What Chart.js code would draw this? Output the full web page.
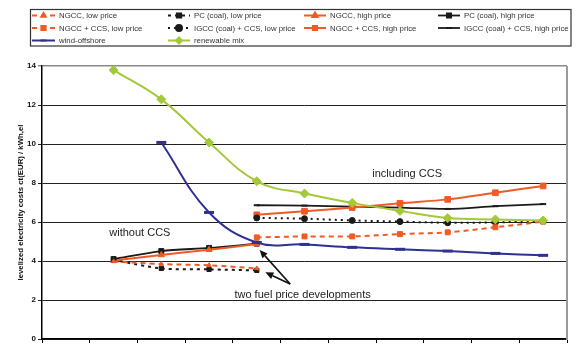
<!DOCTYPE html>
<html>
<head>
<meta charset="utf-8">
<script src="https://cdn.jsdelivr.net/npm/chart.js@4/dist/chart.umd.min.js"></script>
<style>
  html, body { margin: 0; padding: 0; background: #fff; }
  #wrap { width: 579px; height: 347px; position: relative; }
</style>
</head>
<body>
<div id="wrap"><canvas id="c" width="579" height="347"></canvas></div>
<script>
// Time steps along the horizontal axis (labels not shown)
const categories = ['0', '1', '2', '3', '4', '5', '6', '7', '8', '9', '10'];

// Levelized electricity costs, ct(EUR) / kWh,el
const ngccLow      = [null, 3.98, 3.84, 3.78, 3.62, null, null, null, null, null, null];
const pcLow        = [null, 4.05, 3.62, 3.57, 3.52, null, null, null, null, null, null];
const ngccHigh     = [null, 4.02, 4.31, 4.58, 4.87, null, null, null, null, null, null];
const pcHigh       = [null, 4.10, 4.51, 4.67, 4.89, null, null, null, null, null, null];
const ngccCcsLow   = [null, null, null, null, 5.21, 5.26, 5.26, 5.38, 5.47, 5.73, 6.02];
const igccCcsLow   = [null, null, null, null, 6.21, 6.17, 6.08, 6.02, 5.96, 5.98, 6.04];
const ngccCcsHigh  = [null, null, null, null, 6.37, 6.55, 6.74, 6.96, 7.16, 7.50, 7.85];
const igccCcsHigh  = [null, null, null, null, 6.86, 6.84, 6.79, 6.74, 6.67, 6.81, 6.92];
const windOffshore = [null, null, 10.08, 6.49, 4.95, 4.85, 4.70, 4.60, 4.51, 4.39, 4.29];
const renewableMix = [null, 13.79, 12.29, 10.08, 8.09, 7.46, 6.98, 6.57, 6.20, 6.13, 6.08];

const yTicks = [0, 2, 4, 6, 8, 10, 12, 14];

const ORANGE = '#f15a24';
const BLACK = '#1a1a1a';
const BLUE = '#2e3192';
const GREEN = '#a3c93a';

function series(label, data, color, opts) {
  return Object.assign({
    label, data,
    borderColor: color,
    backgroundColor: color,
    pointBackgroundColor: color,
    pointBorderColor: color,
    borderWidth: 2,
    pointRadius: 3,
    pointBorderWidth: 1,
    tension: 0.3,
    spanGaps: false,
    order: 1
  }, opts);
}

const datasets = [
  series('NGCC, low price', ngccLow, ORANGE, { borderDash: [5, 4], pointStyle: 'triangle', pointRadius: 2.5 }),
  series('PC (coal), low price', pcLow, BLACK, { borderDash: [3, 4], pointStyle: 'rect', pointRadius: 3 }),
  series('NGCC, high price', ngccHigh, ORANGE, { pointStyle: 'triangle', pointRadius: 3.5 }),
  series('PC (coal), high price', pcHigh, BLACK, { pointStyle: 'rect', pointRadius: 3.5, borderWidth: 1.8 }),
  series('NGCC + CCS, low price', ngccCcsLow, ORANGE, { borderDash: [5, 4], pointStyle: 'rect', pointRadius: 3.5 }),
  series('IGCC (coal) + CCS, low price', igccCcsLow, BLACK, { borderDash: [2, 4], pointStyle: 'circle', pointRadius: 3 }),
  series('NGCC + CCS, high price', ngccCcsHigh, ORANGE, { pointStyle: 'rect', pointRadius: 4 }),
  series('IGCC (coal) + CCS, high price', igccCcsHigh, BLACK, { pointStyle: 'line', pointRadius: 3, pointBorderWidth: 2, borderWidth: 1.8 }),
  series('wind-offshore', windOffshore, BLUE, { pointStyle: 'line', pointRadius: 5, pointBorderWidth: 3, tension: 0.4, order: 0 }),
  series('renewable mix', renewableMix, GREEN, { pointStyle: 'rectRot', pointRadius: 4.5, tension: 0.4, order: 0 })
];

// Legend laid out in a boxed 4-column grid above the plot
const legendGrid = {
  id: 'legendGrid',
  afterDraw(chart) {
    const ctx = chart.ctx;
    const colLine = [32, 168, 304, 438];
    const colText = [59, 194, 330, 464];
    const rowY = [15.5, 28, 40.5];
    ctx.save();
    ctx.strokeStyle = '#333';
    ctx.lineWidth = 1.2;
    ctx.strokeRect(30.5, 9.5, 540.5, 36.5);
    ctx.font = '7.8px "Liberation Sans", Arial, sans-serif';
    ctx.textBaseline = 'middle';
    chart.data.datasets.forEach((ds, i) => {
      const col = i % 4, row = Math.floor(i / 4);
      const x0 = colLine[col], x1 = colText[col] - 4, y = rowY[row];
      ctx.save();
      ctx.strokeStyle = ds.borderColor;
      ctx.lineWidth = ds.borderWidth;
      ctx.setLineDash(ds.borderDash || []);
      ctx.beginPath();
      ctx.moveTo(x0, y);
      ctx.lineTo(x1, y);
      ctx.stroke();
      ctx.setLineDash([]);
      ctx.fillStyle = ds.pointBackgroundColor;
      ctx.strokeStyle = ds.pointBorderColor;
      Chart.helpers.drawPoint(ctx, {
        pointStyle: ds.pointStyle,
        radius: Math.min(ds.pointRadius, 3),
        rotation: 0,
        borderWidth: ds.pointBorderWidth
      }, (x0 + x1) / 2, y);
      ctx.restore();
      ctx.fillStyle = '#333';
      ctx.fillText(ds.label, colText[col], y + 0.5);
    });
    ctx.restore();
  }
};

// Frame on the right side of the plot area
const plotFrame = {
  id: 'plotFrame',
  beforeDatasetsDraw(chart) {
    const { ctx, chartArea: a } = chart;
    ctx.save();
    ctx.strokeStyle = '#9a9a9a';
    ctx.lineWidth = 2;
    ctx.beginPath();
    ctx.moveTo(a.right, a.top);
    ctx.lineTo(a.right, a.bottom + 1);
    ctx.stroke();
    ctx.restore();
  }
};

// Text notes and arrows placed in data units (category index, cost)
const notes = [
  { text: 'without CCS', x: 1.55, y: 5.43 },
  { text: 'including CCS', x: 7.15, y: 8.45 },
  { text: 'two fuel price developments', x: 4.96, y: 2.28 }
];
const arrows = [
  { from: [4.70, 2.82], to: [4.06, 4.57] },
  { from: [4.70, 2.82], to: [4.18, 3.42] }
];

const annotate = {
  id: 'annotate',
  afterDatasetsDraw(chart) {
    const { ctx, scales: { x, y } } = chart;
    const px = v => x.left + (x.right - x.left) * (v + 0.5) / categories.length;
    ctx.save();
    ctx.fillStyle = '#222';
    ctx.font = '11px "Liberation Sans", Arial, sans-serif';
    ctx.textAlign = 'center';
    ctx.textBaseline = 'middle';
    notes.forEach(n => ctx.fillText(n.text, px(n.x), y.getPixelForValue(n.y)));
    ctx.strokeStyle = '#111';
    ctx.fillStyle = '#111';
    ctx.lineWidth = 1.6;
    arrows.forEach(a => {
      const x0 = px(a.from[0]), y0 = y.getPixelForValue(a.from[1]);
      const x1 = px(a.to[0]), y1 = y.getPixelForValue(a.to[1]);
      const ang = Math.atan2(y1 - y0, x1 - x0);
      const L = 8, W = 3.5;
      const bx = x1 - L * Math.cos(ang), by = y1 - L * Math.sin(ang);
      ctx.beginPath();
      ctx.moveTo(x0, y0);
      ctx.lineTo(bx, by);
      ctx.stroke();
      ctx.beginPath();
      ctx.moveTo(x1, y1);
      ctx.lineTo(bx + W * Math.sin(ang), by - W * Math.cos(ang));
      ctx.lineTo(bx - W * Math.sin(ang), by + W * Math.cos(ang));
      ctx.closePath();
      ctx.fill();
    });
    ctx.restore();
  }
};

new Chart(document.getElementById('c'), {
  type: 'line',
  data: { labels: categories, datasets },
  options: {
    responsive: false,
    animation: false,
    events: [],
    layout: { padding: { top: 66, right: 12, bottom: 4, left: 0 } },
    plugins: { legend: { display: false }, tooltip: { enabled: false } },
    scales: {
      x: {
        type: 'category',
        offset: true,
        grid: { offset: true, drawOnChartArea: false, drawTicks: true, tickLength: 4, color: '#000', lineWidth: 1 },
        border: { color: '#000', width: 1.5 },
        ticks: { display: false }
      },
      y: {
        min: 0,
        max: 14,
        afterBuildTicks: s => { s.ticks = yTicks.map(v => ({ value: v })); },
        afterFit: s => { s.width = 42; },
        ticks: {
          color: '#111',
          padding: 2,
          font: { family: '"Liberation Sans", Arial, sans-serif', size: 8, weight: 'bold' }
        },
        grid: {
          color: c => (c.tick && c.tick.value === 14) ? '#8a8a8a' : '#222',
          lineWidth: c => (c.tick && c.tick.value === 14) ? 1.5 : 1,
          tickLength: 4
        },
        border: { color: '#000', width: 1.5 },
        title: {
          display: true,
          text: 'levelized electricity costs ct(EUR) / kWh,el',
          color: '#111',
          padding: { top: 16, bottom: 0 },
          font: { family: '"Liberation Sans", Arial, sans-serif', size: 7.8, weight: 'bold' }
        }
      }
    }
  },
  plugins: [plotFrame, annotate, legendGrid]
});
</script>
</body>
</html>
